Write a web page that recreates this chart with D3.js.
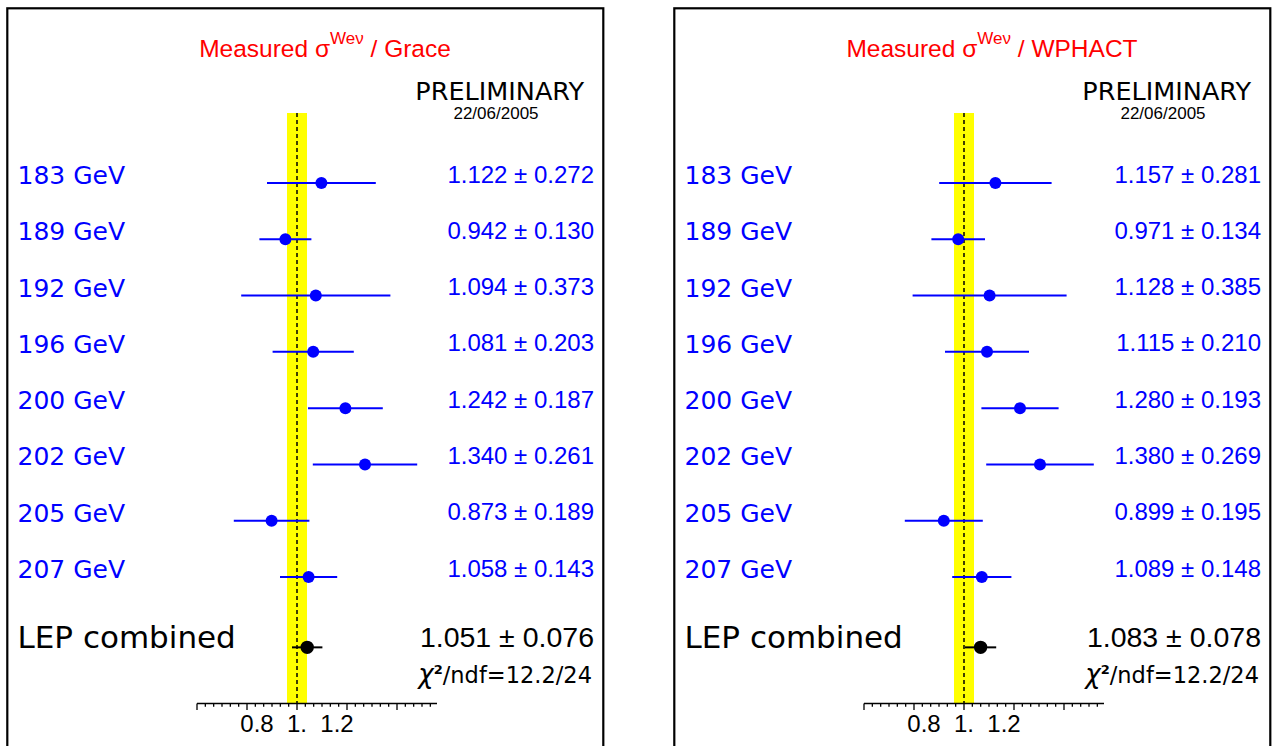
<!DOCTYPE html>
<html><head><meta charset="utf-8">
<script src="https://cdn.jsdelivr.net/npm/d3@7"></script>
<style>body{margin:0;background:#fff;overflow:hidden}</style>
</head><body><svg id="c" width="1274" height="746"></svg>
<script>
const energies = ["183 GeV","189 GeV","192 GeV","196 GeV","200 GeV","202 GeV","205 GeV","207 GeV"];
const graceValues = [1.122, 0.942, 1.094, 1.081, 1.242, 1.340, 0.873, 1.058];
const graceErrors = [0.272, 0.130, 0.373, 0.203, 0.187, 0.261, 0.189, 0.143];
const wphactValues = [1.157, 0.971, 1.128, 1.115, 1.280, 1.380, 0.899, 1.089];
const wphactErrors = [0.281, 0.134, 0.385, 0.210, 0.193, 0.269, 0.195, 0.148];
const generators = ["Grace", "WPHACT"];
const combinedValues = [1.051, 1.083];
const combinedErrors = [0.076, 0.078];
const chi2Labels = ["12.2/24", "12.2/24"];
const tickLabelValues = [0.8, 1.0, 1.2];
const tickLabelText = ["0.8", "1.", "1.2"];
const bandHalfWidth = 0.05;
const dateLabel = "22/06/2005";

const panels = generators.map((g, k) => ({
  name: g,
  values: k === 0 ? graceValues : wphactValues,
  errors: k === 0 ? graceErrors : wphactErrors,
  comb: combinedValues[k], combErr: combinedErrors[k], chi2: chi2Labels[k]
}));

const svg = d3.select("#c");
const x = d3.scaleLinear().domain([0.5, 1.7]).range([197, 437]);
const y = d3.scaleLinear().domain([0, 7]).range([183, 577]);
const panelOffset = d3.scaleOrdinal().domain(generators).range([0, 667]);
const combRow = 8.25;
const axisY = 703.5, bandTop = 113;
const gothic = "'DejaVu Sans', sans-serif";
const arial = "'Liberation Sans', Arial, sans-serif";
const fmt = d3.format(".3f");

panels.forEach(p => {
  const g = svg.append("g").attr("transform", `translate(${panelOffset(p.name)},0)`);
  g.append("rect").attr("x", 7.3).attr("y", 8.3).attr("width", 596).attr("height", 780)
    .attr("fill", "none").attr("stroke", "#000").attr("stroke-width", 2.2);
  const t = g.append("text").attr("x", 325).attr("y", 57).attr("text-anchor", "middle")
    .attr("font-family", arial).attr("font-size", 24.5).attr("fill", "#ff0000");
  t.append("tspan").text("Measured σ");
  t.append("tspan").attr("dy", -13).attr("font-size", 17).text("Weν");
  t.append("tspan").attr("dy", 13).text(" / " + p.name);
  g.append("text").attr("x", 584).attr("y", 100).attr("text-anchor", "end")
    .attr("font-family", gothic).attr("font-size", 25.5).attr("fill", "#000").text("PRELIMINARY");
  g.append("text").attr("x", 496).attr("y", 119).attr("text-anchor", "middle")
    .attr("font-family", arial).attr("font-size", 17).attr("fill", "#000").text(dateLabel);
  g.append("rect").attr("x", x(1 - bandHalfWidth)).attr("y", bandTop)
    .attr("width", x(1 + bandHalfWidth) - x(1 - bandHalfWidth)).attr("height", axisY - bandTop)
    .attr("fill", "#ffff00");
  g.append("line").attr("x1", x(1)).attr("x2", x(1)).attr("y1", bandTop).attr("y2", axisY)
    .attr("stroke", "#000").attr("stroke-width", 1.5).attr("stroke-dasharray", "4,3");
  g.append("line").attr("x1", x(0.5)).attr("x2", x(1.7)).attr("y1", axisY).attr("y2", axisY)
    .attr("stroke", "#000").attr("stroke-width", 1.4);
  const ticks = d3.range(0, 29).map(i => 0.5 + i * 0.25 / 6);
  g.selectAll(".tk").data(ticks).enter().append("line")
    .attr("x1", d => x(d)).attr("x2", d => x(d)).attr("y1", axisY)
    .attr("y2", (d, i) => axisY + (i % 6 === 0 ? 6.5 : 3.3))
    .attr("stroke", "#000").attr("stroke-width", 1.3);
  g.selectAll(".tl").data(tickLabelValues).enter().append("text")
    .attr("x", d => x(d)).attr("y", 732).attr("text-anchor", "middle")
    .attr("font-family", arial).attr("font-size", 24).attr("fill", "#000")
    .text((d, i) => tickLabelText[i]);
  energies.forEach((e, i) => {
    const v = p.values[i], er = p.errors[i];
    g.append("text").attr("x", 17.5).attr("y", y(i) + 1).attr("font-family", gothic)
      .attr("font-size", 25).attr("fill", "#0000ff").text(e);
    g.append("line").attr("x1", x(v - er)).attr("x2", x(v + er)).attr("y1", y(i)).attr("y2", y(i))
      .attr("stroke", "#0000ff").attr("stroke-width", 2);
    g.append("circle").attr("cx", x(v)).attr("cy", y(i)).attr("r", 6).attr("fill", "#0000ff");
    g.append("text").attr("x", 594).attr("y", y(i) - 0.5).attr("text-anchor", "end")
      .attr("font-family", arial).attr("font-size", 24).attr("fill", "#0000ff")
      .text(fmt(v) + " ± " + fmt(er));
  });
  const cy = y(combRow);
  g.append("text").attr("x", 17.5).attr("y", cy + 0.5).attr("font-family", gothic)
    .attr("font-size", 31).attr("fill", "#000").text("LEP combined");
  g.append("line").attr("x1", x(p.comb - p.combErr)).attr("x2", x(p.comb + p.combErr))
    .attr("y1", cy).attr("y2", cy).attr("stroke", "#000").attr("stroke-width", 2);
  g.append("circle").attr("cx", x(p.comb)).attr("cy", cy).attr("r", 6.7).attr("fill", "#000");
  g.append("text").attr("x", 594).attr("y", cy - 0.5).attr("text-anchor", "end")
    .attr("font-family", arial).attr("font-size", 28.5).attr("fill", "#000")
    .text(fmt(p.comb) + " ± " + fmt(p.combErr));
  const ct = g.append("text").attr("x", 592).attr("y", 683).attr("text-anchor", "end")
    .attr("font-family", gothic).attr("font-size", 22.5).attr("fill", "#000");
  ct.append("tspan").attr("font-style", "italic").attr("font-size", 26).text("χ");
  ct.append("tspan").attr("dy", -9).attr("font-size", 13).attr("font-weight", "bold").text("2");
  ct.append("tspan").attr("dy", 9).text("/ndf=" + p.chi2);
});
</script></body></html>
